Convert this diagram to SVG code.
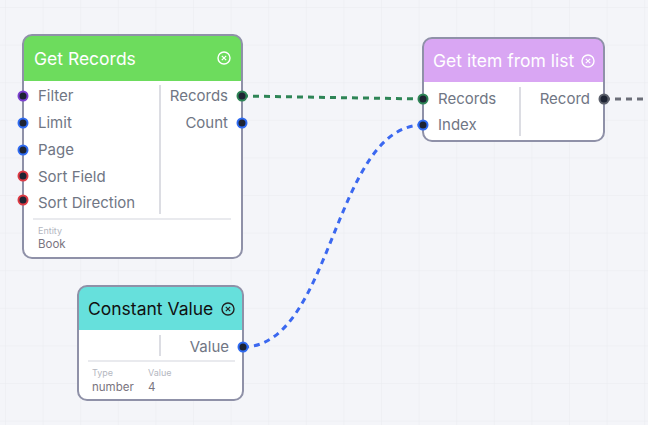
<svg xmlns="http://www.w3.org/2000/svg" width="648" height="425" viewBox="0 0 648 425">
<defs>
<pattern id="grid" x="5" y="7" width="37.6" height="37.6" patternUnits="userSpaceOnUse">
<path d="M0 0 V37.6 M0 0 H37.6" fill="none" stroke="#eaebef" stroke-width="1"/>
</pattern>
<clipPath id="c1"><rect x="23" y="35" width="219" height="223" rx="9"/></clipPath>
<clipPath id="c2"><rect x="423" y="38" width="181" height="103" rx="9"/></clipPath>
<clipPath id="c3"><rect x="78" y="286" width="165" height="114" rx="9"/></clipPath>
</defs>
<style>
text{font-family:Inter,"Noto Sans","Liberation Sans",sans-serif}
.title{font-size:17.5px;font-weight:400}
.lbl{font-size:15px;fill:#707684}
.small{font-size:9px;fill:#b4b7bf}
.val{font-size:11.5px;fill:#7a7480}
.frame{fill:none;stroke:#8f91a8;stroke-width:2}
.body{fill:#ffffff}
.div{stroke:#dcdde3;stroke-width:2}
.sep{stroke:#e2e3e8;stroke-width:1.5}
.close{fill:none;stroke-width:1.4}
.port{fill:#1e2433;stroke-width:2}
.wire{fill:none;stroke-width:3;stroke-dasharray:6 5}
</style>
<rect width="648" height="425" fill="#f4f5f9"/>
<rect width="648" height="425" fill="url(#grid)"/>

<g id="connectors">
<path class="wire" stroke="#2e8556" d="M242 96 L423 99"/>
<path class="wire" stroke="#3b68f0" d="M243 347 C333 347 333 125 423 125"/>
<path class="wire" stroke="#6b6e78" d="M604 99 L648 99"/>
</g>

<g id="get-records">
<g clip-path="url(#c1)">
<rect class="body" x="23" y="35" width="219" height="223"/>
<rect x="23" y="35" width="219" height="46" fill="#6ddc5d"/>
</g>
<rect class="frame" x="23" y="35" width="219" height="223" rx="9"/>
<text class="title" x="34" y="65" fill="#ffffff">Get Records</text>
<circle class="close" cx="224" cy="58" r="6" stroke="#ffffff"/>
<path d="M221.8 55.8 L226.2 60.2 M226.2 55.8 L221.8 60.2" stroke="#ffffff" stroke-width="1.2"/>
<line class="div" x1="160" y1="85" x2="160" y2="214"/>
<text class="lbl" x="38" y="101">Filter</text>
<text class="lbl" x="38" y="128">Limit</text>
<text class="lbl" x="38" y="155">Page</text>
<text class="lbl" x="38" y="182">Sort Field</text>
<text class="lbl" x="38" y="208">Sort Direction</text>
<text class="lbl" x="228" y="101" text-anchor="end">Records</text>
<text class="lbl" x="228" y="128" text-anchor="end">Count</text>
<line class="sep" x1="33" y1="219" x2="231" y2="219"/>
<text class="small" x="38" y="234">Entity</text>
<text class="val" x="38" y="248">Book</text>
<circle class="port" cx="23" cy="96" r="4.5" stroke="#7b3fd0"/>
<circle class="port" cx="23" cy="123" r="4.5" stroke="#2f6bf2"/>
<circle class="port" cx="23" cy="150" r="4.5" stroke="#2f6bf2"/>
<circle class="port" cx="23" cy="176" r="4.5" stroke="#de3a44"/>
<circle class="port" cx="23" cy="200" r="4.5" stroke="#de3a44"/>
<circle class="port" cx="242" cy="96" r="4.5" stroke="#2e8556"/>
<circle class="port" cx="242" cy="123" r="4.5" stroke="#2f6bf2"/>
</g>

<g id="get-item">
<g clip-path="url(#c2)">
<rect class="body" x="423" y="38" width="181" height="103"/>
<rect x="423" y="38" width="181" height="44" fill="#d9a6f3"/>
</g>
<rect class="frame" x="423" y="38" width="181" height="103" rx="9"/>
<text class="title" x="433" y="67" fill="#ffffff">Get item from list</text>
<circle class="close" cx="588" cy="61" r="6" stroke="#ffffff"/>
<path d="M585.8 58.8 L590.2 63.2 M590.2 58.8 L585.8 63.2" stroke="#ffffff" stroke-width="1.2"/>
<line class="div" x1="520" y1="87" x2="520" y2="136"/>
<text class="lbl" x="438" y="104">Records</text>
<text class="lbl" x="438" y="130">Index</text>
<text class="lbl" x="590" y="104" text-anchor="end">Record</text>
<circle class="port" cx="423" cy="99" r="4.5" stroke="#2e8556"/>
<circle class="port" cx="423" cy="125" r="4.5" stroke="#2f6bf2"/>
<circle class="port" cx="604" cy="99" r="4.5" stroke="#5b5f6a"/>
</g>

<g id="constant-value">
<g clip-path="url(#c3)">
<rect class="body" x="78" y="286" width="165" height="114"/>
<rect x="78" y="286" width="165" height="44" fill="#66e0dc"/>
</g>
<rect class="frame" x="78" y="286" width="165" height="114" rx="9"/>
<text class="title" x="88" y="315" fill="#111111">Constant Value</text>
<circle class="close" cx="228" cy="309" r="6" stroke="#222222"/>
<path d="M225.8 306.8 L230.2 311.2 M230.2 306.8 L225.8 311.2" stroke="#222222" stroke-width="1.2"/>
<line class="div" x1="160" y1="335" x2="160" y2="356"/>
<text class="lbl" x="229" y="352" text-anchor="end">Value</text>
<line class="sep" x1="88" y1="361" x2="235" y2="361"/>
<text class="small" x="92" y="376">Type</text>
<text class="small" x="148" y="376">Value</text>
<text class="val" x="92" y="391">number</text>
<text class="val" x="148" y="391">4</text>
<circle class="port" cx="243" cy="347" r="4.5" stroke="#2f6bf2"/>
</g>
</svg>
